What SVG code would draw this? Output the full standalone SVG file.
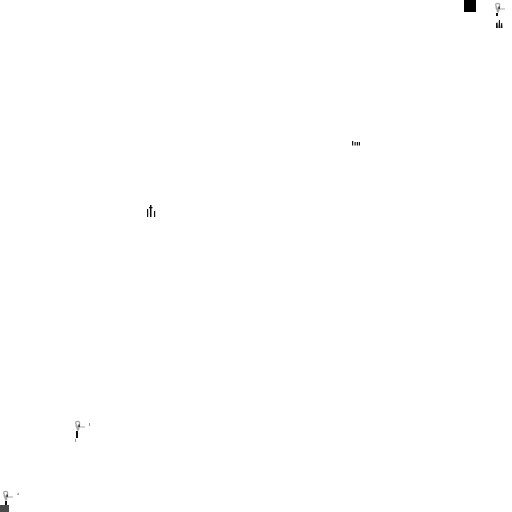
<svg xmlns="http://www.w3.org/2000/svg" width="512" height="512" viewBox="0 0 512 512">
<defs>
<g id="lamp">
<path d="M1 .8c1-.6 3-.6 3.500.4v3l-1 1.300-1.500-.5-1.300-2.500z" fill="#fff" stroke="#a6a6a6" stroke-width="1.300"/>
<path d="M0 4l2.500 1.500h7.500v1h-5.500l-.5 3h-1.800l-1-3z" fill="#a6a6a6"/>
<rect x="3.500" y="3.500" width="1.200" height="2.500" fill="#111"/>
</g>
<path id="bars3" d="M0 8v-5l1.500-.5.400 5.500zM2.500 8l.4-8h1l.4 8zM4.800 8l.4-5h1l.3 5z" fill="#111"/>
</defs>
<rect width="512" height="512" fill="#fff"/>
<rect x="464" y="0" width="12" height="12" fill="#000"/>
<g id="lamp-top"><use href="#lamp" x="495" y="3"/>
<rect x="496" y="13" width="2" height="3" fill="#111"/>
<use href="#bars3" x="496" y="20"/></g>
<path d="M352 141h1.200v4.500h-1.200zM354.500 142h1.200v3.500h-1.200zM356.800 142h1.200v3.500h-1.200zM358.800 142h1.200v3.500h-1.200z" fill="#111"/>
<path d="M147 209h1.200v8h-1.200zM150 205h1.500v12h-1.500zM149 207h3.500v1.200h-3.500zM154 211h1.200v6h-1.200z" fill="#111"/>
<g id="lamp-mid"><use href="#lamp" x="75" y="421"/>
<rect x="76" y="431" width="2" height="7" fill="#111"/>
<rect x="75" y="439" width="1" height="3" fill="#999"/>
<rect x="89" y="423" width="1" height="3" fill="#999"/></g>
<g id="lamp-bottom"><use href="#lamp" x="3" y="491"/>
<rect x="5" y="501" width="2" height="4" fill="#111"/>
<rect x="0" y="505" width="9" height="7" fill="#4a4a4a"/>
<path d="M17 494l2-1.500v2.500h-2z" fill="#aaa"/></g>
</svg>
